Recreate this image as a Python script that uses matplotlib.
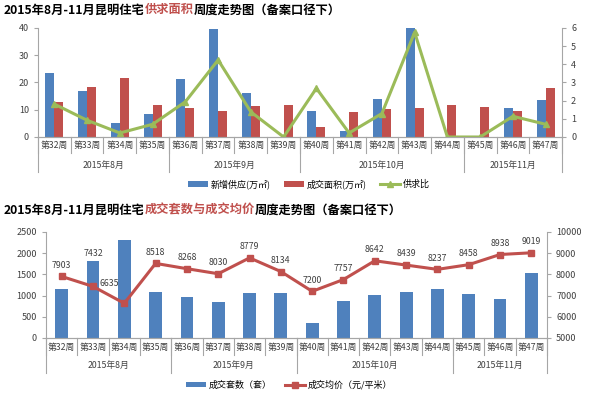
import matplotlib
matplotlib.use("Agg")
import matplotlib.pyplot as plt
import numpy as np

plt.rcParams["font.family"] = ["Noto Sans CJK SC", "DejaVu Sans"]

WEEKS = ["第32周", "第33周", "第34周", "第35周", "第36周", "第37周", "第38周", "第39周",
         "第40周", "第41周", "第42周", "第43周", "第44周", "第45周", "第46周", "第47周"]
MONTHS = ["2015年8月", "2015年9月", "2015年10月", "2015年11月"]
MONTH_SIZES = [4, 4, 5, 3]

# top chart: supply / transaction area (万㎡) and supply-demand ratio
new_supply = [23.3, 16.7, 5.0, 8.4, 21.2, 39.8, 16.0, 0, 9.6, 2.1, 13.8, 40.0, 0, 0, 10.8, 13.5]
deal_area = [13.0, 18.2, 21.8, 11.7, 10.8, 9.5, 11.5, 11.6, 3.7, 9.2, 10.3, 10.8, 11.6, 11.1, 9.6, 17.8]
ratio = [1.81, 0.92, 0.22, 0.70, 1.94, 4.24, 1.38, 0, 2.68, 0.22, 1.29, 5.76, 0, 0, 1.14, 0.70]

# bottom chart: units sold and average price
units = [1150, 1810, 2300, 1080, 960, 850, 1070, 1060, 350, 880, 1010, 1075, 1145, 1030, 915, 1540]
price = [7903, 7432, 6635, 8518, 8268, 8030, 8779, 8134, 7200, 7757, 8642, 8439, 8237, 8458, 8938, 9019]

BLUE = "#4F81BD"
RED = "#C0504D"
GREEN = "#9BBB59"
AXC = "#A6A6A6"
TXT = "#404040"

fig = plt.figure(figsize=(6, 3.98), dpi=100)
x = np.arange(len(WEEKS))


def category_axis(ax, row_h, grp_h, wk_y, mo_y):
    # two-level category axis: week boxes with month groups below
    tr = ax.get_xaxis_transform()
    for i in range(len(WEEKS) + 1):
        ax.plot([i - 0.5, i - 0.5], [0, -row_h], transform=tr, color=AXC, lw=0.8, clip_on=False)
    edges = [0]
    for n in MONTH_SIZES:
        edges.append(edges[-1] + n)
    for e in edges:
        ax.plot([e - 0.5, e - 0.5], [0, -grp_h], transform=tr, color=AXC, lw=0.8, clip_on=False)
    for i, w in enumerate(WEEKS):
        ax.text(i, wk_y, w, transform=tr, ha="center", va="center", fontsize=6.3, color=TXT)
    for k, m in enumerate(MONTHS):
        mid = (edges[k] + edges[k + 1] - 1) / 2
        ax.text(mid, mo_y, m, transform=tr, ha="center", va="center", fontsize=6.3, color=TXT)
    ax.set_xticks([])
    ax.set_xlim(-0.5, len(WEEKS) - 0.5)


def style_axes(ax, ax2):
    for a in (ax, ax2):
        a.spines["top"].set_visible(False)
        a.spines["left"].set_color(AXC)
        a.spines["right"].set_color(AXC)
        a.spines["bottom"].set_color(AXC)
        a.tick_params(axis="y", labelsize=6.5, colors=AXC, labelcolor=TXT, length=3, width=0.8)
    ax.spines["right"].set_visible(False)
    ax2.spines["left"].set_visible(False)


def title_parts(y, parts):
    # multi-colour title, pieces laid side by side
    fig.canvas.draw()
    r = fig.canvas.get_renderer()
    xpos = 0.006
    for s, c in parts:
        tt = fig.text(xpos, y, s, fontsize=8.8, fontweight="bold", va="center", color=c)
        bb = tt.get_window_extent(renderer=r)
        xpos += bb.width / fig.bbox.width


# ---------- top chart ----------
ax = fig.add_axes([0.0633, 0.6558, 0.8734, 0.2739])
ax2 = ax.twinx()
bw = 0.275
ax.bar(x - bw / 2, new_supply, bw, color=BLUE, label="新增供应(万㎡)")
ax.bar(x + bw / 2, deal_area, bw, color=RED, label="成交面积(万㎡)")
ax2.plot(x, ratio, color=GREEN, lw=2.2, marker="^", ms=5, label="供求比")
ax.set_ylim(0, 40)
ax.set_yticks(range(0, 41, 10))
ax2.set_ylim(0, 6)
ax2.set_yticks(range(0, 7))
style_axes(ax, ax2)
category_axis(ax, 0.147, 0.321, -0.075, -0.26)

h1, l1 = ax.get_legend_handles_labels()
h2, l2 = ax2.get_legend_handles_labels()
fig.legend(h1 + h2, l1 + l2, loc="center", bbox_to_anchor=(0.515, 0.538), ncol=3,
           frameon=False, fontsize=6.5, handlelength=2.2, handleheight=0.6,
           columnspacing=1.5, handletextpad=0.3)

title_parts(0.975, [("2015年8月-11月昆明住宅", "black"), ("供求面积", RED),
                    ("周度走势图（备案口径下）", "black")])

# ---------- bottom chart ----------
bx = fig.add_axes([0.0767, 0.1508, 0.835, 0.2663])
bx2 = bx.twinx()
bx.bar(x, units, 0.41, color=BLUE, label="成交套数（套）")
bx2.plot(x, price, color=RED, lw=2.2, marker="s", ms=5, label="成交均价（元/平米）")
label_off = {1: (0, 24), 2: (-11, 14)}
for i, p in enumerate(price):
    dx, dy = label_off.get(i, (0, 8))
    bx2.annotate(str(p), (i, p), xytext=(dx, dy), textcoords="offset points",
                 ha="center", va="center", fontsize=6.3, color=TXT)
bx.set_ylim(0, 2500)
bx.set_yticks(range(0, 2501, 500))
bx2.set_ylim(5000, 10000)
bx2.set_yticks(range(5000, 10001, 1000))
style_axes(bx, bx2)
category_axis(bx, 0.16, 0.33, -0.085, -0.255)

h1, l1 = bx.get_legend_handles_labels()
h2, l2 = bx2.get_legend_handles_labels()
fig.legend(h1 + h2, l1 + l2, loc="center", bbox_to_anchor=(0.482, 0.033), ncol=2,
           frameon=False, fontsize=6.5, handlelength=2.2, handleheight=0.6,
           columnspacing=1.5, handletextpad=0.3)

title_parts(0.472, [("2015年8月-11月昆明住宅", "black"), ("成交套数与成交均价", RED),
                    ("周度走势图（备案口径下）", "black")])

fig.savefig("out.png", dpi=100)
